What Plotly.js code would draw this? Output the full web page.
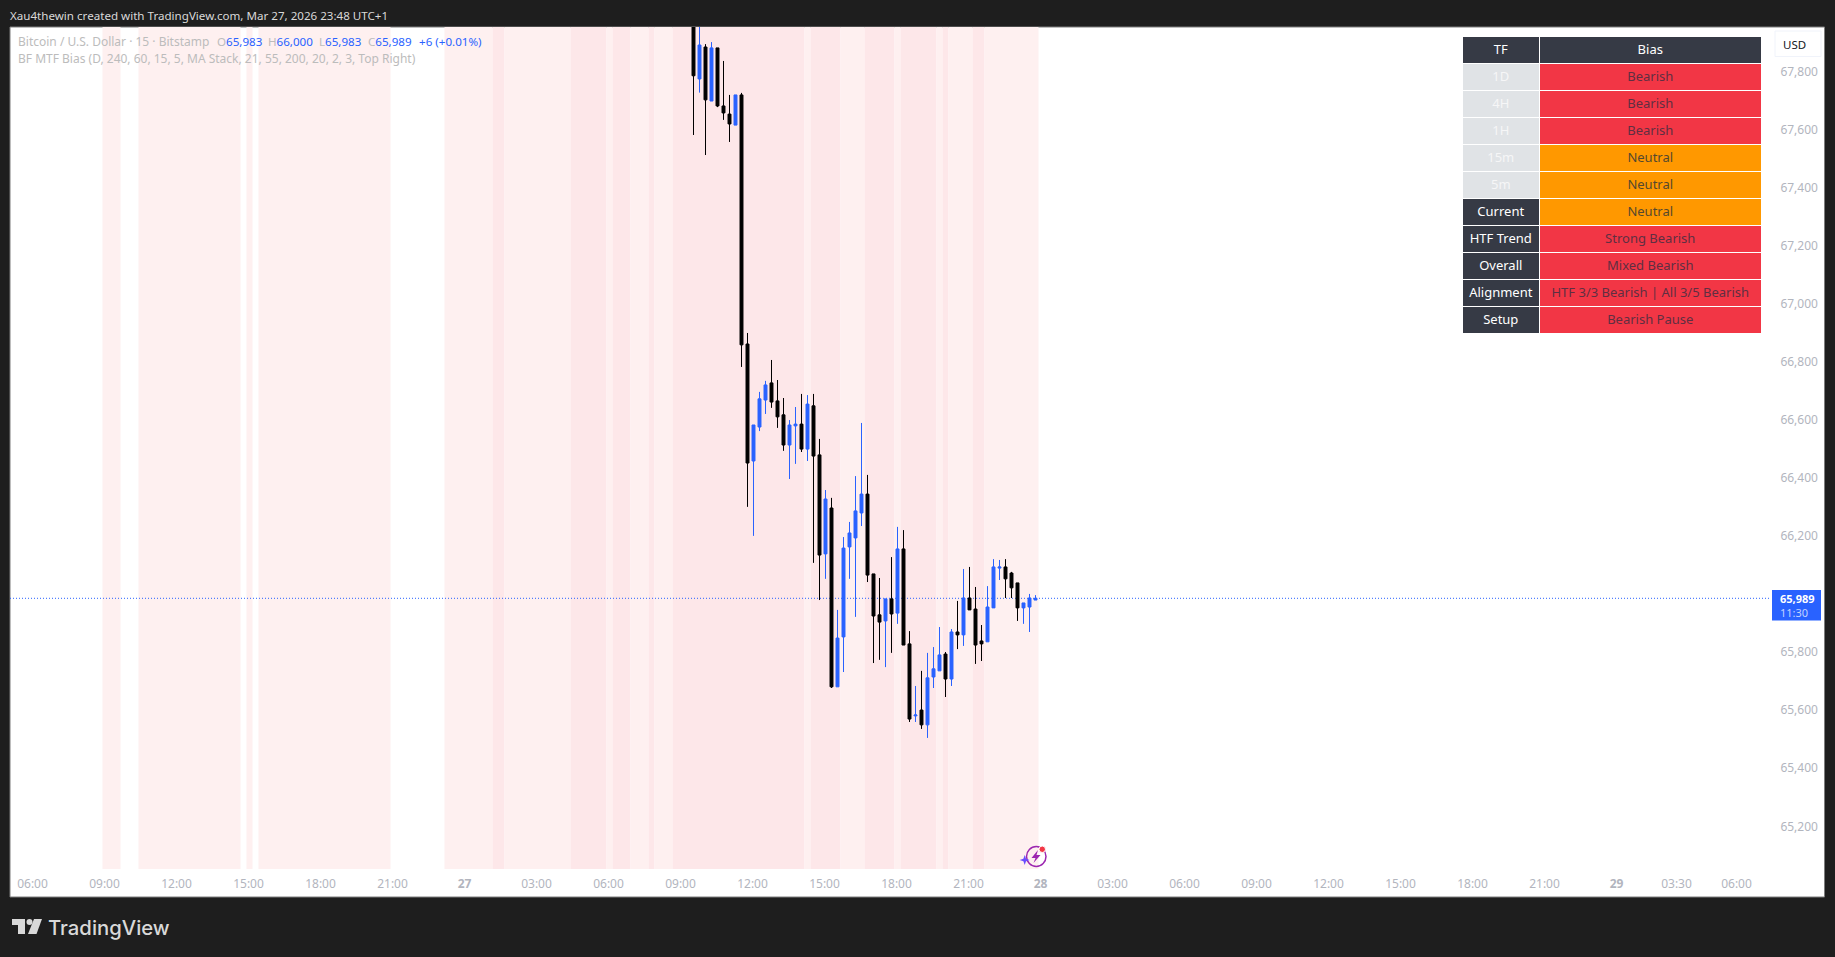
<!DOCTYPE html>
<html><head><meta charset="utf-8">
<script src="https://cdn.plot.ly/plotly-3.0.1.min.js"></script>
<style>html,body{margin:0;padding:0;background:#1e1e1e;overflow:hidden}#c{width:1835px;height:957px}</style>
</head><body><div id="c"></div>
<script>
const barTimes=["09:30","09:45","10:00","10:15","10:30","10:45","11:00","11:15","11:30","11:45","12:00","12:15","12:30","12:45","13:00","13:15","13:30","13:45","14:00","14:15","14:30","14:45","15:00","15:15","15:30","15:45","16:00","16:15","16:30","16:45","17:00","17:15","17:30","17:45","18:00","18:15","18:30","18:45","19:00","19:15","19:30","19:45","20:00","20:15","20:30","20:45","21:00","21:15","21:30","21:45","22:00","22:15","22:30","22:45","23:00","23:15","23:30","23:45"];
const openP=[68000,67778,67888,67702,67885,67685,67657,67619,67723,66865,66462,66579,66672,66731,66669,66621,66517,66583,66589,66503,66652,66483,66142,66300,65684,65856,66166,66197,66283,66348,66073,65932,65911,65987,65938,66159,65832,65584,65604,65553,65718,65739,65797,65711,65873,65863,65990,65952,65842,65839,65956,66093,66097,66076,66042,65956,65959,65983];
const highP=[68050,68000,67898,67905,67885,67840,67723,67723,67730,66903,66586,66700,66738,66810,66741,66679,66603,66648,66693,66689,66693,66538,66362,66335,65949,66200,66252,66410,66593,66414,66073,66059,65987,66131,66235,66224,65876,65687,65739,65801,65821,65890,65804,65883,65980,66090,66097,66028,65897,66031,66124,66121,66124,66080,66042,65973,66004,66000];
const lowP=[67585,67731,67516,67702,67681,67637,67561,67619,66786,66304,66204,66565,66624,66645,66576,66497,66400,66452,66493,66462,66111,65983,66056,65680,65684,65735,66056,65925,66238,66045,65766,65777,65752,65801,65901,65828,65563,65563,65539,65508,65680,65739,65649,65687,65814,65825,65949,65763,65773,65839,65956,66052,65990,65990,65911,65901,65873,65983];
const closeP=[67789,67895,67706,67885,67685,67661,67623,67723,66862,66455,66586,66676,66724,66665,66614,66517,66586,66589,66503,66658,66479,66138,66331,65684,65852,66162,66214,66290,66348,66069,65928,65907,65987,65935,66159,65828,65573,65587,65553,65715,65746,65794,65711,65873,65863,65990,65949,65828,65832,65959,66097,66097,66056,66025,65956,65973,65990,65989];
const priceTicks=[65200,65400,65600,65800,66200,66400,66600,66800,67000,67200,67400,67600,67800];
const timeTicks=["2026-03-26 06:00","2026-03-26 09:00","2026-03-26 12:00","2026-03-26 15:00","2026-03-26 18:00","2026-03-26 21:00","2026-03-27 00:00","2026-03-27 03:00","2026-03-27 06:00","2026-03-27 09:00","2026-03-27 12:00","2026-03-27 15:00","2026-03-27 18:00","2026-03-27 21:00","2026-03-28 00:00","2026-03-28 03:00","2026-03-28 06:00","2026-03-28 09:00","2026-03-28 12:00","2026-03-28 15:00","2026-03-28 18:00","2026-03-28 21:00","2026-03-29 00:00","2026-03-29 02:30","2026-03-29 05:00"];
const timeLabels=["06:00","09:00","12:00","15:00","18:00","21:00","<b>27</b>","03:00","06:00","09:00","12:00","15:00","18:00","21:00","<b>28</b>","03:00","06:00","09:00","12:00","15:00","18:00","21:00","<b>29</b>","03:30","06:00"];
// first bar, last bar, shade (0 light, 1 strong)
const bandFirst=["26 09:00","26 10:30","26 15:00","26 15:30","26 23:15","27 01:15","27 01:45","27 04:30","27 06:00","27 06:15","27 07:00","27 07:45","27 08:00","27 08:45","27 14:15","27 14:30","27 15:45","27 16:45","27 18:00","27 18:15","27 19:45","27 20:00","27 20:15","27 21:15","27 21:45"];
const bandLast =["26 09:30","26 14:30","26 15:00","26 20:45","27 01:00","27 01:30","27 04:15","27 05:45","27 06:00","27 06:45","27 07:30","27 07:45","27 08:30","27 14:00","27 14:15","27 15:30","27 16:30","27 17:45","27 18:00","27 19:30","27 19:45","27 20:00","27 21:00","27 21:30","27 23:45"];
const bandShade=[0,0,0,0,0,1,0,1,0,1,0,1,0,1,0,1,0,1,0,1,0,1,0,1,0];
const tfCol=["1D","4H","1H","15m","5m","Current","HTF\u00a0Trend","Overall","Alignment","Setup"];
const biasCol=["Bearish","Bearish","Bearish","Neutral","Neutral","Neutral","Strong Bearish","Mixed Bearish","HTF 3/3 Bearish | All 3/5 Bearish","Bearish Pause"];
const tfFill=["#e0e3e6","#e0e3e6","#e0e3e6","#e0e3e6","#e0e3e6","#363a45","#363a45","#363a45","#363a45","#363a45"];
const biasFill=["#f23645","#f23645","#f23645","#ff9800","#ff9800","#ff9800","#f23645","#f23645","#f23645","#f23645"];
const lastClose=65989;

const W=1835,H=957,L=10,T=27,PW=1761,PH=842;
const FONT='"Noto Sans", "DejaVu Sans", sans-serif';
const px=x=>(x-L)/PW, py=y=>1-(y-T)/PH;
const stamp=s=>{const d=new Date(Date.UTC(2026,2,+s.slice(0,2),+s.slice(3,5),+s.slice(6,8)));return d.getTime();};
const iso=ms=>new Date(ms).toISOString().replace('T',' ').slice(0,19);
const HALF=7.5*60000;
const pathP=(pts)=>pts.map((p,i)=>(i?'L':'M')+px(p[0]).toFixed(6)+','+py(p[1]).toFixed(6)).join(' ')+' Z';

const shapes=[];
shapes.push({type:'rect',xref:'paper',yref:'paper',x0:px(10),x1:px(1824.5),y0:py(27),y1:py(897),fillcolor:'#ffffff',line:{color:'#7d7d7d',width:1},layer:'below'});
bandFirst.forEach((b,i)=>shapes.push({type:'rect',xref:'x',yref:'paper',x0:iso(stamp(b)-HALF),x1:iso(stamp(bandLast[i])+HALF),y0:0,y1:1,fillcolor:bandShade[i]?'#fde7e9':'#fef0f0',line:{width:0},layer:'below'}));
shapes.push({type:'line',xref:'paper',yref:'y',x0:0,x1:1,y0:lastClose,y1:lastClose,line:{color:'#2962ff',width:1,dash:'1px,2px'},layer:'below'});
// USD button
shapes.push({type:'rect',xref:'paper',yref:'paper',x0:px(1775),x1:px(1821),y0:py(31),y1:py(56.5),fillcolor:'#ffffff',line:{color:'#f0f3fa',width:1},layer:'above'});
// last price tag
shapes.push({type:'rect',xref:'paper',yref:'paper',x0:px(1772),x1:px(1821),y0:py(590),y1:py(620.5),fillcolor:'#2962ff',line:{width:0},layer:'above'});
// TradingView mark
shapes.push({type:'path',xref:'paper',yref:'paper',path:pathP([[12,919],[25,919],[25,934],[18,934],[18,925],[12,925]]),fillcolor:'#d9d9d9',line:{width:0},layer:'above'});
shapes.push({type:'circle',xref:'paper',yref:'paper',x0:px(26.5),x1:px(32.5),y0:py(919),y1:py(925),fillcolor:'#d9d9d9',line:{width:0},layer:'above'});
shapes.push({type:'path',xref:'paper',yref:'paper',path:pathP([[34,919],[42,919],[36.5,934],[28,934]]),fillcolor:'#d9d9d9',line:{width:0},layer:'above'});
// spark icon
shapes.push({type:'circle',xref:'paper',yref:'paper',x0:px(1026.5),x1:px(1046),y0:py(846.5),y1:py(866.5),fillcolor:'rgba(0,0,0,0)',line:{color:'#9c27b0',width:1.5},layer:'above'});
shapes.push({type:'path',xref:'paper',yref:'paper',path:pathP([[1038,850],[1031.5,858],[1035.5,858],[1033.5,863],[1040.5,855],[1036.5,855]]),fillcolor:'#9c27b0',line:{width:0},layer:'above'});
shapes.push({type:'circle',xref:'paper',yref:'paper',x0:px(1039),x1:px(1045.5),y0:py(846),y1:py(852.5),fillcolor:'#f23645',line:{color:'#ffffff',width:1},layer:'above'});
shapes.push({type:'path',xref:'paper',yref:'paper',path:pathP([[1024.7,855],[1026,858.8],[1029.7,860],[1026,861.2],[1024.7,865],[1023.4,861.2],[1019.7,860],[1023.4,858.8]]),fillcolor:'#6a4cff',line:{width:0},layer:'above'});

const note=(x,y,text,size,color,anchor,extra)=>Object.assign({xref:'paper',yref:'paper',x:px(x),y:py(y),text,showarrow:false,xanchor:anchor||'left',yanchor:'middle',font:{family:FONT,size,color},bgcolor:'rgba(0,0,0,0)',borderpad:0,borderwidth:0},extra||{});
const BL='#2962ff',GR='#bcbcbc';
const s=(c,t)=>`<span style="color:${c}">${t}</span>`;
const annotations=[
 note(10,15.5,'Xau4thewin created with TradingView.com, Mar 27, 2026 23:48 UTC+1',11.6,'#d9d9d9'),
 note(18,42,'Bitcoin / U.S. Dollar · 15 · Bitstamp',12,GR),
 note(217,42,s(GR,'O')+s(BL,'65,983'),11.6,BL),
 note(268,42,s(GR,'H')+s(BL,'66,000'),11.6,BL),
 note(319,42,s(GR,'L')+s(BL,'65,983'),11.6,BL),
 note(368,42,s(GR,'C')+s(BL,'65,989'),11.6,BL),
 note(419,42,'+6 (+0.01%)',11.6,BL),
 note(18,58.5,'BF MTF Bias (D, 240, 60, 15, 5, MA Stack, 21, 55, 200, 20, 2, 3, Top Right)',12,GR),
 note(1794.5,44.5,'USD',11.5,'#131722','center'),
 note(1780,605,'<b>65,989</b><br>'+s('#c3d2ff','11:30'),11,'#ffffff','left',{align:'left'}),
 note(48,927,'TradingView',20.3,'#d9d9d9','left',{font:{family:'Inter, "Noto Sans", sans-serif',size:20.3,color:'#d9d9d9',weight:500}})
];

const candle={type:'candlestick',x:barTimes.map(t=>'2026-03-27 '+t),open:openP,high:highP,low:lowP,close:closeP,
 increasing:{line:{color:'#2962ff',width:1},fillcolor:'#2962ff'},decreasing:{line:{color:'#000000',width:1},fillcolor:'#000000'},whiskerwidth:0,hoverinfo:'skip',showlegend:false};
const table={type:'table',domain:{x:[px(1462),px(1761)],y:[py(336),py(36)]},columnwidth:[77.5,221.5],
 header:{values:['TF','Bias'],height:27,align:'center',fill:{color:'#363a45'},line:{color:'#ffffff',width:1},font:{family:FONT,size:13,color:'#ffffff'}},
 cells:{values:[tfCol,biasCol],height:27,align:'center',
  fill:{color:[tfFill,biasFill]},line:{color:'#ffffff',width:1},
  font:{family:FONT,size:13,color:[tfFill.map(c=>c==='#363a45'?'#ffffff':'#f6f6f7'),biasFill.map(c=>c==='#ff9800'?'#54482f':'#5f2f42')]}}};

Plotly.newPlot('c',[candle,table],{
 width:W,height:H,margin:{l:L,t:T,r:W-L-PW,b:H-T-PH,pad:0},
 paper_bgcolor:'#1e1e1e',plot_bgcolor:'rgba(0,0,0,0)',showlegend:false,
 xaxis:{type:'date',range:['2026-03-26 05:01:15','2026-03-29 06:23:45'],rangeslider:{visible:false},tickmode:'array',tickvals:timeTicks,ticktext:timeLabels,ticklabelshift:-1,
  showgrid:false,zeroline:false,showline:false,ticks:'outside',ticklen:4,tickcolor:'rgba(0,0,0,0)',tickfont:{family:FONT,size:12,color:'#b2b5be'},tickangle:0,automargin:false,fixedrange:true},
 yaxis:{side:'right',range:[65056.5,67957],tickmode:'array',tickvals:priceTicks,ticktext:priceTicks.map(v=>v.toLocaleString('en-US')),ticklabelshift:-1,
  showgrid:false,zeroline:false,showline:false,ticks:'outside',ticklen:6,tickcolor:'rgba(0,0,0,0)',tickfont:{family:FONT,size:12,color:'#b2b5be'},automargin:false,fixedrange:true},
 shapes,annotations,hovermode:false
},{displayModeBar:false,staticPlot:false,responsive:false});
</script></body></html>
